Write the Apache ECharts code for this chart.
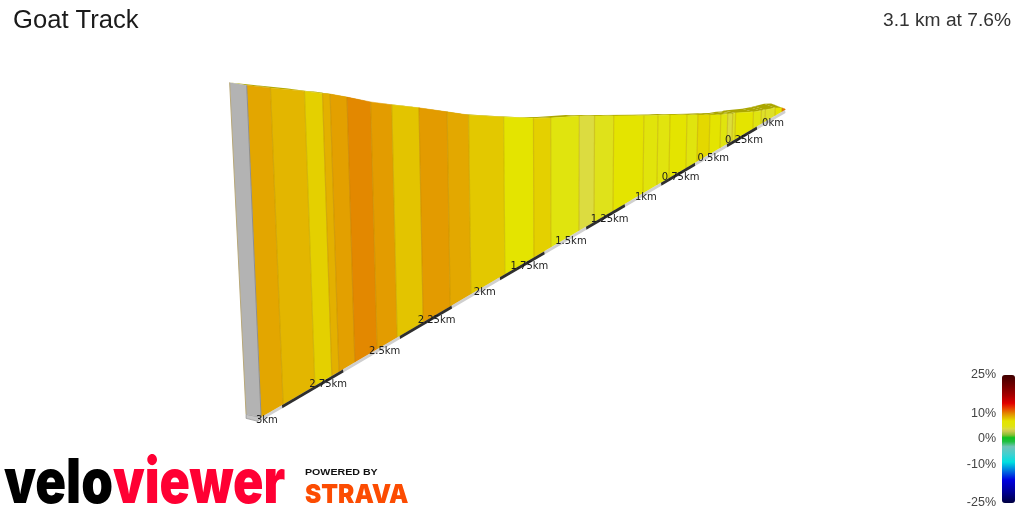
<!DOCTYPE html>
<html><head><meta charset="utf-8">
<style>html,body{margin:0;padding:0;background:#fff}#c{width:1024px;height:512px}</style>
<script src="https://cdn.jsdelivr.net/npm/echarts@6/dist/echarts.min.js"></script>
</head><body><div id="c"></div>
<script>
// --- data ---
const titleText = 'Goat Track';
const summaryText = '3.1 km at 7.6%';
// segment boundaries, km from the start of the climb
const boundaryKm = [3.08,2.995,2.868,2.798,2.768,2.70,2.602,2.511,2.389,2.257,2.152,1.972,1.81,1.712,1.543,1.449,1.327,1.126,1.028,.942,.817,.734,.641,.554,.498,.457,.433,.282,.213,.178,.09,.027,0];
// height gained at each boundary, metres
const elevationM = [237,229.3,218.2,211.6,209.1,202,191.4,182.7,171.6,158.9,148.7,134,121.1,114.2,103.8,97,88.2,73.9,67,61.3,52.2,46.3,39.7,33.3,30.3,27.4,26.7,17,13.1,11.7,7.6,3.1,0];
// gradient of each segment, percent
const gradientPct = [9.05,8.5,7.65,8.7,9.25,10,9.35,8.05,9.4,8.95,7.9,7,7.65,5.2,4,4.8,7,5.6,5.3,7,5.2,7.4,7,5.2,4.1,4.6,7,5,4.5,4.5,7,10.5];
const tickKm = [3,2.75,2.5,2.25,2,1.75,1.5,1.25,1,.75,.5,.25,0];
const tickLabels = ['3km','2.75km','2.5km','2.25km','2km','1.75km','1.5km','1.25km','1km','0.75km','0.5km','0.25km','0km'];
const legendTicks = [25,10,0,-10,-25];
const rampPct = [-25,-21,-16,-13,-9,-6,-3,-1,0.5,1.5,3,4,5,7,8,9,10,12,14,17,21,25];
const rampColor = ['#000040','#000090','#0000e0','#0060e0','#00e0e0','#40d0d0','#70c4b8','#20c040','#10c020','#80c030','#c8c850','#dcdc40','#e0e410','#e4e400','#e3c500','#e3a700','#e38800','#e84000','#e00000','#a80000','#700000','#400000'];

// --- perspective from (km, metres) to axis values ---
const FAR_X=785,K=109.8,C=0.1151,BASE_X=260,BASE_Y=418,SLOPE=0.5867,PX_M=0.9;
const depth=d=>1-C*d;
const baseX=d=>FAR_X-K*d/depth(d);
const baseY=d=>BASE_Y-(baseX(d)-BASE_X)*SLOPE;
function topPt(d,e){
  const xb=baseX(d),H=(1+e*PX_M)/depth(d);
  return [xb-H*(560-xb)*0.000145, baseY(d)-H];
}
function backPt(p,d){
  const dy=1+3.5*Math.max(0,1-d/.8)+2*Math.max(0,(d-1.7)/1.4);
  return [p[0]-11/depth(d),p[1]-dy];
}
// expand colour ramp to an evenly spaced list for the visual map
function hex(c){return [1,3,5].map(i=>parseInt(c.substr(i,2),16));}
const rampEven=[];
for(let p=-25;p<=25;p+=0.5){
  let i=0; while(i<rampPct.length-2&&p>rampPct[i+1])i++;
  const t=(p-rampPct[i])/(rampPct[i+1]-rampPct[i]),a=hex(rampColor[i]),b=hex(rampColor[i+1]);
  rampEven.push('rgb('+a.map((v,k)=>Math.round(v+(b[k]-v)*t)).join(',')+')');
}
const segRows=gradientPct.map((g,i)=>[boundaryKm[i],boundaryKm[i+1],g,elevationM[i],elevationM[i+1]]);
const bandKm=[boundaryKm[0]].concat(tickKm);
const bandRows=bandKm.slice(0,-1).map((d,i)=>[d,bandKm[i+1],i%2]);
const tickRows=tickKm.map((d,i)=>[d,i]);

function renderSeg(params,api){
  const d0=api.value(0),d1=api.value(1),e0=api.value(3),e1=api.value(4);
  const fill=api.visual('color');
  const c=p=>api.coord(p);
  const t0=topPt(d0,e0),t1=topPt(d1,e1),b0=[baseX(d0),baseY(d0)],b1=[baseX(d1),baseY(d1)];
  const ct1=c(t1),cb1=c(b1);
  return {type:'group',children:[
    {type:'polygon',shape:{points:[t0,t1,backPt(t1,d1),backPt(t0,d0)].map(c)},style:{fill:'#aba600'},z2:1},
    {type:'polygon',shape:{points:[t0,t1,b1,b0].map(c)},style:{fill:fill,stroke:fill,lineWidth:0.5},z2:2},
    {type:'line',shape:{x1:ct1[0],y1:ct1[1],x2:cb1[0],y2:cb1[1]},style:{stroke:'rgba(170,130,0,0.3)',lineWidth:1.2},z2:3}
  ]};
}
function renderEnd(params,api){
  const d=api.value(0),e=api.value(1),c=p=>api.coord(p);
  const t=topPt(d,e),b=[baseX(d),baseY(d)],tb=backPt(t,d),bb=[b[0]-15,b[1]-3];
  const ct=c(t),cb=c(b),ctb=c(tb),cbb=c(bb);
  return {type:'group',children:[
    {type:'polygon',shape:{points:[bb,b,[b[0]-3,b[1]+4],[bb[0],bb[1]+4]].map(c)},style:{fill:'#c4c4c4',stroke:'#8c8c8c',lineWidth:0.7}},
    {type:'polygon',shape:{points:[tb,t,b,bb].map(c)},style:{fill:'#b3b3b3'}},
    {type:'line',shape:{x1:ct[0],y1:ct[1],x2:cb[0],y2:cb[1]},style:{stroke:'#8f8f8f',lineWidth:1}},
    {type:'line',shape:{x1:ctb[0],y1:ctb[1],x2:cbb[0],y2:cbb[1]},style:{stroke:'#b8a878',lineWidth:1}}
  ]};
}
function renderBand(params,api){
  const d0=api.value(0),d1=api.value(1),c=p=>api.coord(p);
  const a=[baseX(d0),baseY(d0)],b=[baseX(d1),baseY(d1)];
  return {type:'polygon',shape:{points:[a,b,[b[0]+0.5,b[1]+3],[a[0]+0.5,a[1]+3]].map(c)},style:{fill:api.value(2)?'#2f2f2f':'#cfcfcf'}};
}
function renderTick(params,api){
  const d=api.value(0),f=Math.max(0,1-d);
  const p=api.coord([baseX(d)-15+3*f,baseY(d)+15-2*f]);
  return {type:'text',x:p[0],y:p[1],style:{text:tickLabels[params.dataIndex],font:'10px "DejaVu Sans"',fill:'#1c1c1c',align:'center',verticalAlign:'middle'}};
}

const chart=echarts.init(document.getElementById('c'),null,{renderer:'canvas',width:1024,height:512});
chart.setOption({
  animation:false,
  backgroundColor:'#fff',
  title:[
    {text:titleText,left:13,top:8,padding:0,textStyle:{fontFamily:'Liberation Sans',fontSize:25.6,fontWeight:'normal',color:'#1a1a1a'}},
    {text:summaryText,right:13,top:11,padding:0,textStyle:{fontFamily:'Liberation Sans',fontSize:19.2,fontWeight:'normal',color:'#333'}}
  ],
  grid:[
    {left:0,right:0,top:0,bottom:0,containLabel:false},
    {left:1002,top:375,width:13,height:128}
  ],
  xAxis:[
    {type:'value',gridIndex:0,min:0,max:1024,show:false},
    {type:'value',gridIndex:1,min:0,max:1,show:false}
  ],
  yAxis:[
    {type:'value',gridIndex:0,min:0,max:512,inverse:true,show:false},
    {type:'value',gridIndex:1,min:-25,max:25,position:'left',
     axisLine:{show:false},axisTick:{show:false},splitLine:{show:false},
     axisLabel:{customValues:legendTicks,formatter:'{value}%',margin:6,fontFamily:'Liberation Sans',fontSize:12.5,color:'#444',showMinLabel:true,showMaxLabel:true}}
  ],
  visualMap:{type:'continuous',seriesIndex:0,dimension:2,min:-25,max:25,inRange:{color:rampEven},
    left:1002,top:375,itemWidth:13,itemHeight:128,padding:0,calculable:false,text:null,showLabel:false,hoverLink:false},
  series:[
    {type:'custom',coordinateSystem:'cartesian2d',xAxisIndex:0,yAxisIndex:0,data:segRows,renderItem:renderSeg,clip:false,silent:true,z:2},
    {type:'custom',coordinateSystem:'cartesian2d',xAxisIndex:0,yAxisIndex:0,data:[[boundaryKm[0],elevationM[0]]],renderItem:renderEnd,clip:false,silent:true,z:3},
    {type:'custom',coordinateSystem:'cartesian2d',xAxisIndex:0,yAxisIndex:0,data:bandRows,renderItem:renderBand,clip:false,silent:true,z:4},
    {type:'custom',coordinateSystem:'cartesian2d',xAxisIndex:0,yAxisIndex:0,data:tickRows,renderItem:renderTick,clip:false,silent:true,z:5}
  ],
  graphic:[
    {type:'text',x:4,y:453,scaleX:0.82,style:{text:'velo',font:'900 62px Inter',fill:'#000'}},
    {type:'text',x:113,y:453,scaleX:0.81,style:{text:'viewer',font:'900 62px Inter',fill:'#ff0033'}},
    {type:'text',x:305,y:467,scaleX:1.12,style:{text:'POWERED BY',font:'bold 9.5px "Liberation Sans"',fill:'#111'}},
    {type:'text',x:305,y:482,scaleX:0.94,style:{text:'STRAVA',font:'900 26px Inter',fill:'#fc4c02'}}
  ]
});
</script></body></html>
